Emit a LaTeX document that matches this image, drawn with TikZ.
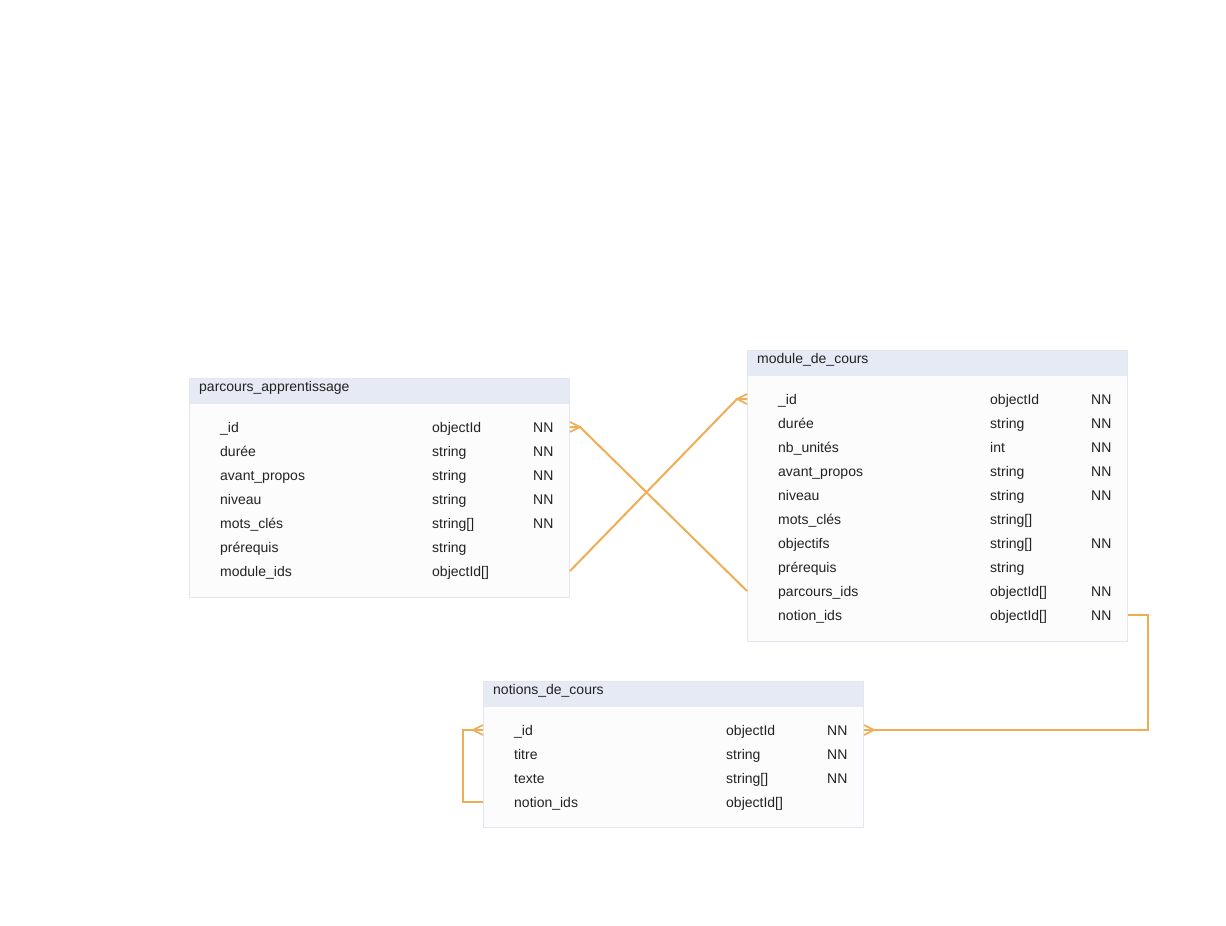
\documentclass[tikz,border=0pt]{standalone}
\usepackage{fontspec}
\setmainfont{Liberation Sans}
\usetikzlibrary{calc}
\definecolor{hdr}{HTML}{E6EAF4}
\definecolor{bdy}{HTML}{FCFCFD}
\definecolor{brd}{HTML}{E3E6EE}
\definecolor{txt}{HTML}{222222}
\definecolor{rel}{HTML}{EFAD55}
\tikzset{
  tframe/.style={draw=brd, fill=bdy, line width=1pt, minimum width=380pt, anchor=north west, inner sep=0pt},
  thead/.style={fill=hdr, minimum width=379pt, minimum height=25pt, anchor=north west, inner sep=0pt},
  htext/.style={text=txt, anchor=west, inner sep=0pt, text height=10pt, text depth=0pt, font=\fontsize{14}{16}\selectfont},
  cell/.style={text=txt, anchor=west, inner sep=0pt, text height=10pt, text depth=0pt, font=\fontsize{14}{16}\selectfont},
  relline/.style={draw=rel, line width=2pt},
  crow/.style={draw=rel, line width=1.6pt},
}
\begin{document}
\begin{tikzpicture}[x=1pt,y=-1pt]
\useasboundingbox (0,0) rectangle (1226,926);
% ---------- parcours_apprentissage
\node[tframe, minimum height=219pt] (P) at (189,378) {};
\node[thead] (Ph) at (189.5,378.5) {};
\node[htext] (Pt) at (199,386) {parcours\_apprentissage};
\foreach \n/\t/\k [count=\i] in {\_id/objectId/NN, durée/string/NN, avant\_propos/string/NN, niveau/string/NN, mots\_clés/string[]/NN, prérequis/string/, module\_ids/objectId[]/}{
  \node[cell] (P-\i) at (220,{427+24*(\i-1)}) {\n};
  \node[cell] (P-\i t) at (432,{427+24*(\i-1)}) {\t};
  \node[cell] (P-\i k) at (533,{427+24*(\i-1)}) {\k};
}
% ---------- module_de_cours
\node[tframe, minimum height=291pt] (M) at (747,350) {};
\node[thead] (Mh) at (747.5,350.5) {};
\node[htext] (Mt) at (757,358) {module\_de\_cours};
\foreach \n/\t/\k [count=\i] in {\_id/objectId/NN, durée/string/NN, nb\_unités/int/NN, avant\_propos/string/NN, niveau/string/NN, mots\_clés/string[]/, objectifs/string[]/NN, prérequis/string/, parcours\_ids/objectId[]/NN, notion\_ids/objectId[]/NN}{
  \node[cell] (M-\i) at (778,{399+24*(\i-1)}) {\n};
  \node[cell] (M-\i t) at (990,{399+24*(\i-1)}) {\t};
  \node[cell] (M-\i k) at (1091,{399+24*(\i-1)}) {\k};
}
% ---------- notions_de_cours
\node[tframe, minimum height=146pt] (N) at (483,681) {};
\node[thead] (Nh) at (483.5,681.5) {};
\node[htext] (Nt) at (493,689) {notions\_de\_cours};
\foreach \n/\t/\k [count=\i] in {\_id/objectId/NN, titre/string/NN, texte/string[]/NN, notion\_ids/objectId[]/}{
  \node[cell] (N-\i) at (514,{730+24*(\i-1)}) {\n};
  \node[cell] (N-\i t) at (726,{730+24*(\i-1)}) {\t};
  \node[cell] (N-\i k) at (827,{730+24*(\i-1)}) {\k};
}
% ---------- relations
% parcours.module_ids -> module._id
\coordinate (c1) at ($(M.west |- M-1)+(-10,0)$);
\draw[relline] (P.east |- P-7) -- (c1) -- (M.west |- M-1);
\draw[crow] ($(M.west |- M-1)+(0,-5)$) -- (c1) -- ($(M.west |- M-1)+(0,5)$);
% module.parcours_ids -> parcours._id
\coordinate (c2) at ($(P.east |- P-1)+(10,0)$);
\draw[relline] (M.west |- M-9) -- (c2) -- (P.east |- P-1);
\draw[crow] ($(P.east |- P-1)+(0,-5)$) -- (c2) -- ($(P.east |- P-1)+(0,5)$);
% module.notion_ids -> notions._id
\coordinate (c3) at ($(N.east |- N-1)+(10,0)$);
\coordinate (b3) at ($(M.east |- M-10)+(20,0)$);
\draw[relline] (M.east |- M-10) -- (b3) |- (c3) -- (N.east |- N-1);
\draw[crow] ($(N.east |- N-1)+(0,-5)$) -- (c3) -- ($(N.east |- N-1)+(0,5)$);
% notions.notion_ids -> notions._id
\coordinate (c4) at ($(N.west |- N-1)+(-10,0)$);
\coordinate (b4) at ($(N.west |- N-4)+(-20,0)$);
\draw[relline] (N.west |- N-4) -- (b4) |- (c4) -- (N.west |- N-1);
\draw[crow] ($(N.west |- N-1)+(0,-5)$) -- (c4) -- ($(N.west |- N-1)+(0,5)$);
\end{tikzpicture}
\end{document}
